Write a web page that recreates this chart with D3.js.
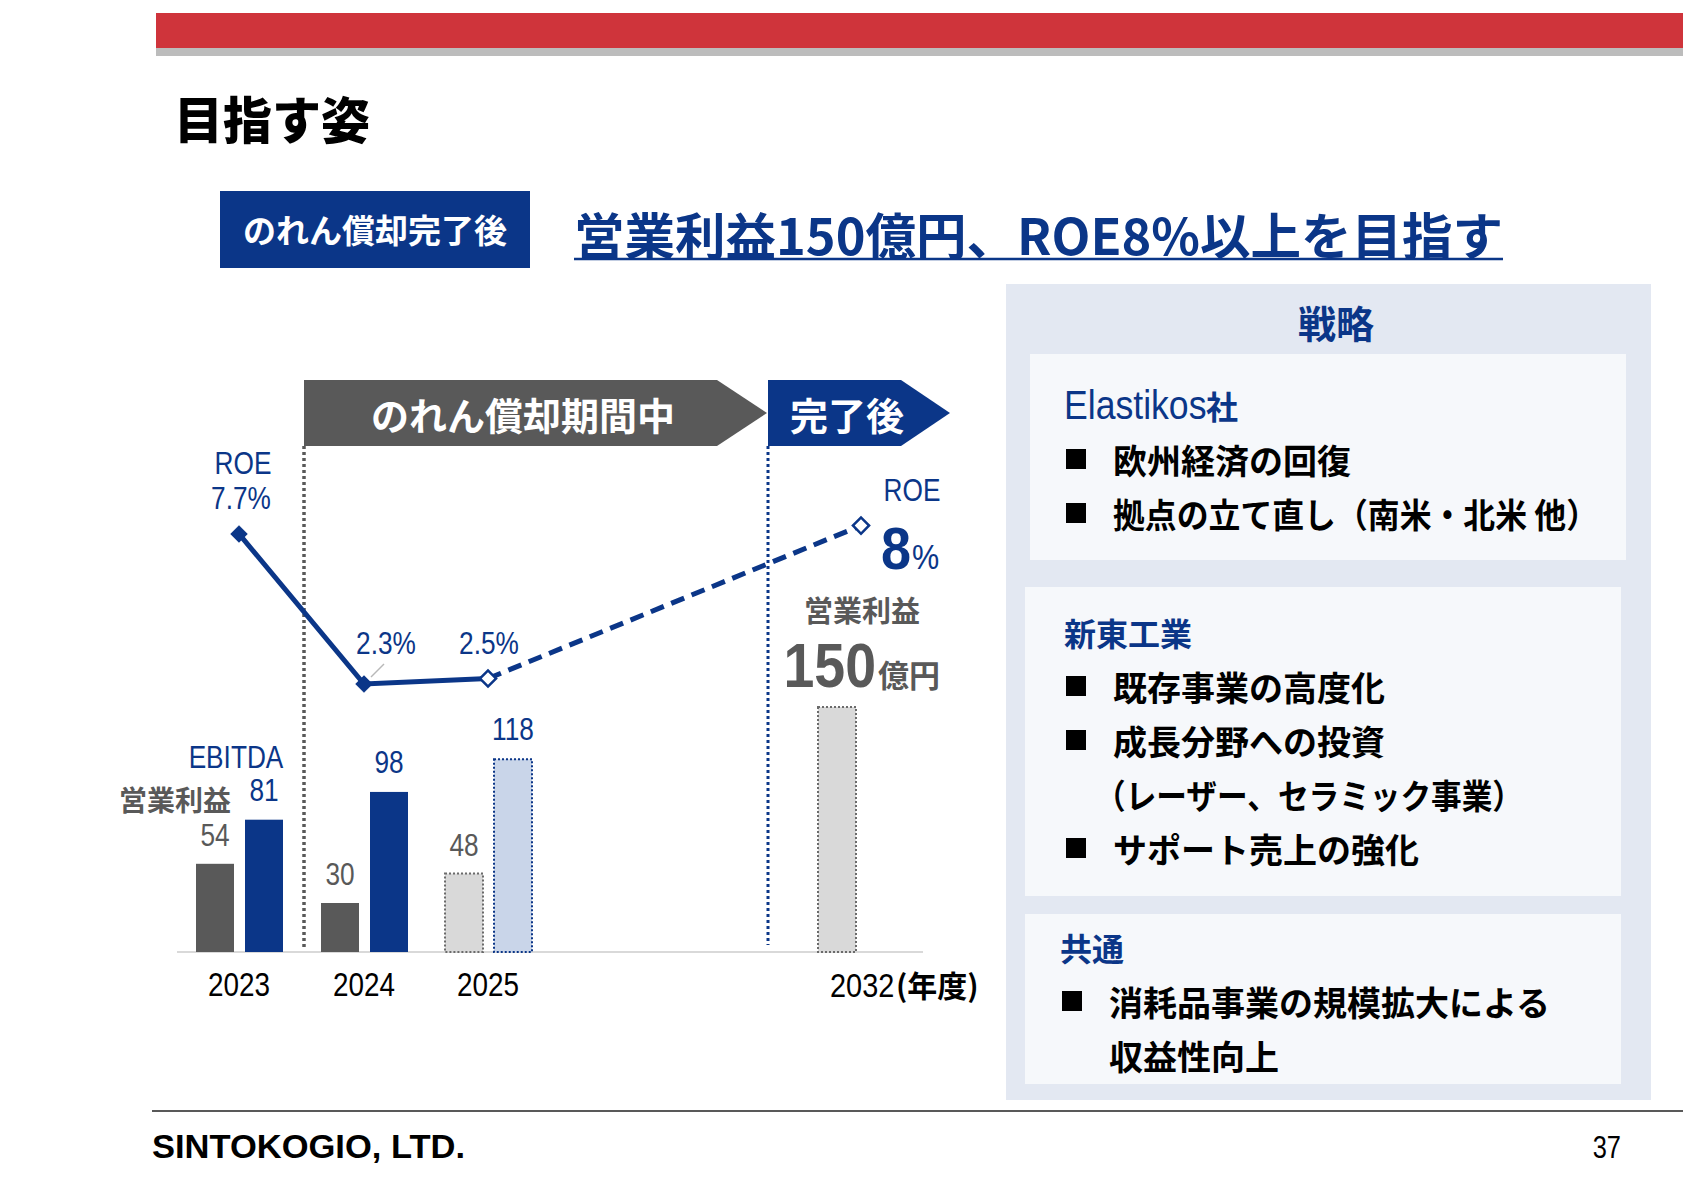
<!DOCTYPE html>
<html>
<head>
<meta charset="utf-8">
<script src="https://cdn.jsdelivr.net/npm/d3@7"></script>
<style>
  body { margin: 0; background: #fff; }
  text { font-family: "Noto Sans CJK JP", sans-serif; }
  .num { font-family: "Liberation Sans", Arial, sans-serif; }
</style>
</head>
<body>
<svg id="chart" width="1683" height="1190"></svg>
<script>
"use strict";
// fiscal years and values (億円 / %)
var years = ["2023", "2024", "2025", "2032"];
var opProfit = [54, 30, 48, 150];
var ebitda = [81, 98, 118, null];
var roe = [7.7, 2.3, 2.5, 8];
var isPlan = [false, false, true, true];

// strategy panel texts
var strategyHeads = ["Elastikos社", "新東工業", "共通"];
var strategyItems = [
  [["欧州経済の回復"], ["拠点の立て直し（南米・北米 他）"]],
  [["既存事業の高度化"], ["成長分野への投資", "（レーザー、セラミック事業）"], ["サポート売上の強化"]],
  [["消耗品事業の規模拡大による", "収益性向上"]]
];

var navy = "#0b3688",
  darkGray = "#595959";

var svg = d3.select("#chart");

//fake a narrow face: squeeze text horizontally around its anchor point
function squeeze(sel, k) {
  sel.each(function() {
    var t = d3.select(this);
    var x0 = +t.attr("x") || 0,
      y0 = +t.attr("y") || 0;
    t.attr("x", 0).attr("y", 0)
      .attr("transform", "translate(" + x0 + "," + y0 + ") scale(" + k + ",1)");
  });
  return sel;
}

// header stripes
svg.append("rect").attr("x", 156).attr("y", 13).attr("width", 1527).attr("height", 35).attr("fill", "#cf343b");
svg.append("rect").attr("x", 156).attr("y", 48).attr("width", 1527).attr("height", 8).attr("fill", "#bcbcbc");

svg.append("text").attr("x", 174).attr("y", 117).attr("dominant-baseline", "central")
  .attr("font-size", 50).attr("font-weight", 900).attr("fill", "#000")
  .attr("textLength", 196).attr("lengthAdjust", "spacingAndGlyphs").text("目指す姿");

// goal banner
svg.append("rect").attr("x", 220).attr("y", 191).attr("width", 310).attr("height", 77).attr("fill", navy);
svg.append("text").attr("x", 375).attr("y", 229).attr("text-anchor", "middle").attr("dominant-baseline", "central")
  .attr("font-size", 33).attr("font-weight", 700).attr("fill", "#fff").text("のれん償却完了後");

svg.append("text").attr("x", 574).attr("y", 233).attr("dominant-baseline", "central")
  .attr("font-size", 50).attr("font-weight", 700).attr("fill", navy)
  .attr("textLength", 929).attr("lengthAdjust", "spacingAndGlyphs")
  .text("営業利益150億円、ROE8%以上を目指す");
svg.append("line").attr("x1", 574).attr("x2", 1503).attr("y1", 259).attr("y2", 259)
  .attr("stroke", navy).attr("stroke-width", 2.5);

// ---- chart ----
var x = d3.scaleOrdinal().domain(years).range([239, 364, 488, 837]);
var xRoe = d3.scaleOrdinal().domain(years).range([239, 364, 488, 861]);
var y = d3.scaleLinear().domain([0, 150]).range([952, 707]);
var yRoe = d3.scaleLinear().domain([0, 8]).range([748, 525.6]);
var barW = 38;

// period arrows
svg.append("polygon").attr("points", "304,380 717,380 767,413 717,446 304,446").attr("fill", darkGray);
svg.append("polygon").attr("points", "768,380 901,380 950,413 901,446 768,446").attr("fill", navy);
svg.append("text").attr("x", 523).attr("y", 413).attr("text-anchor", "middle").attr("dominant-baseline", "central")
  .attr("font-size", 38).attr("font-weight", 700).attr("fill", "#fff").text("のれん償却期間中");
svg.append("text").attr("x", 847).attr("y", 413).attr("text-anchor", "middle").attr("dominant-baseline", "central")
  .attr("font-size", 38).attr("font-weight", 700).attr("fill", "#fff").text("完了後");

svg.append("line").attr("x1", 304).attr("x2", 304).attr("y1", 446).attr("y2", 950)
  .attr("stroke", darkGray).attr("stroke-width", 3.5).attr("stroke-dasharray", "3,3");
svg.append("line").attr("x1", 768).attr("x2", 768).attr("y1", 446).attr("y2", 945)
  .attr("stroke", navy).attr("stroke-width", 3).attr("stroke-dasharray", "3,3");

svg.append("line").attr("x1", 177).attr("x2", 923).attr("y1", 952).attr("y2", 952)
  .attr("stroke", "#d9d9d9").attr("stroke-width", 2);

var rows = years.map(function(yr, i) {
  return { year: yr, op: opProfit[i], eb: ebitda[i], roe: roe[i], plan: isPlan[i], single: ebitda[i] === null };
});

// operating profit bars
var opX = function(d) { return d.single ? x(d.year) - barW / 2 : x(d.year) - 43; };
svg.append("g").selectAll("rect").data(rows).enter().append("rect")
  .attr("x", opX)
  .attr("y", function(d) { return y(d.op); })
  .attr("width", barW)
  .attr("height", function(d) { return y(0) - y(d.op); })
  .attr("fill", function(d) { return d.plan ? "#d9d9d9" : darkGray; })
  .attr("stroke", function(d) { return d.plan ? "#6b6b6b" : "none"; })
  .attr("stroke-width", 2).attr("stroke-dasharray", "2,2");

// EBITDA bars
var ebRows = rows.filter(function(d) { return d.eb !== null; });
svg.append("g").selectAll("rect").data(ebRows).enter().append("rect")
  .attr("x", function(d) { return x(d.year) + 6; })
  .attr("y", function(d) { return y(d.eb); })
  .attr("width", barW)
  .attr("height", function(d) { return y(0) - y(d.eb); })
  .attr("fill", function(d) { return d.plan ? "#c9d5e9" : navy; })
  .attr("stroke", function(d) { return d.plan ? navy : "none"; })
  .attr("stroke-width", 2).attr("stroke-dasharray", "2,2");

// bar value labels
squeeze(svg.append("g").selectAll("text").data(rows.filter(function(d) { return !d.single; })).enter().append("text")
  .attr("class", "num")
  .attr("x", function(d) { return x(d.year) - 24; })
  .attr("y", function(d) { return y(d.op) - 29; })
  .attr("text-anchor", "middle").attr("dominant-baseline", "central")
  .attr("font-size", 32).attr("fill", darkGray)
  .text(function(d) { return d.op; }), 0.82);
squeeze(svg.append("g").selectAll("text").data(ebRows).enter().append("text")
  .attr("class", "num")
  .attr("x", function(d) { return x(d.year) + 25; })
  .attr("y", function(d) { return y(d.eb) - 30; })
  .attr("text-anchor", "middle").attr("dominant-baseline", "central")
  .attr("font-size", 32).attr("fill", navy)
  .text(function(d) { return d.eb; }), 0.82);

squeeze(svg.append("text").attr("class", "num").attr("x", 236).attr("y", 757)
  .attr("text-anchor", "middle").attr("dominant-baseline", "central")
  .attr("font-size", 32).attr("fill", navy).text("EBITDA"), 0.82);
svg.append("text").attr("x", 175).attr("y", 799)
  .attr("text-anchor", "middle").attr("dominant-baseline", "central")
  .attr("font-size", 28).attr("font-weight", 700).attr("fill", darkGray).text("営業利益");

// year labels
squeeze(svg.append("g").selectAll("text").data(rows.filter(function(d) { return !d.single; })).enter().append("text")
  .attr("class", "num")
  .attr("x", function(d) { return x(d.year); })
  .attr("y", 985)
  .attr("text-anchor", "middle").attr("dominant-baseline", "central")
  .attr("font-size", 34).attr("fill", "#000")
  .text(function(d) { return d.year; }), 0.82);
squeeze(svg.append("text").attr("class", "num").attr("x", 830).attr("y", 985).attr("dominant-baseline", "central")
  .attr("font-size", 34).attr("fill", "#000").text(years[3]), 0.85);
svg.append("text").attr("x", 896).attr("y", 984).attr("dominant-baseline", "central")
  .attr("font-size", 30).attr("font-weight", 700).attr("fill", "#000").text("(年度)");

// 2032 target labels
svg.append("text").attr("x", 862).attr("y", 609).attr("text-anchor", "middle").attr("dominant-baseline", "central")
  .attr("font-size", 29).attr("font-weight", 700).attr("fill", darkGray).text("営業利益");
squeeze(svg.append("text").attr("class", "num").attr("x", 876).attr("y", 687).attr("text-anchor", "end")
  .attr("font-size", 63).attr("font-weight", 700).attr("fill", darkGray).text(opProfit[3]), 0.88);
svg.append("text").attr("x", 878).attr("y", 687)
  .attr("font-size", 31).attr("font-weight", 700).attr("fill", darkGray).text("億円");

// ROE line
var line = d3.line()
  .x(function(d) { return xRoe(d.year); })
  .y(function(d) { return yRoe(d.roe); });
svg.append("path").datum(rows.slice(0, 3)).attr("d", line)
  .attr("fill", "none").attr("stroke", navy).attr("stroke-width", 5);
svg.append("path").datum(rows.slice(2)).attr("d", line)
  .attr("fill", "none").attr("stroke", navy).attr("stroke-width", 5).attr("stroke-dasharray", "14,8");

// leader for 2.3%
svg.append("line").attr("x1", 384).attr("y1", 664).attr("x2", 371).attr("y2", 677)
  .attr("stroke", "#b8b8b8").attr("stroke-width", 1.5);

var diamond = d3.symbol().type(d3.symbolSquare).size(130);
svg.append("g").selectAll("path").data(rows).enter().append("path")
  .attr("d", diamond)
  .attr("transform", function(d) { return "translate(" + xRoe(d.year) + "," + yRoe(d.roe) + ") rotate(45)"; })
  .attr("fill", function(d) { return d.plan ? "#fff" : navy; })
  .attr("stroke", navy).attr("stroke-width", function(d) { return d.plan ? 2.5 : 1; });

// ROE labels
squeeze(svg.append("text").attr("class", "num").attr("x", 243).attr("y", 463)
  .attr("text-anchor", "middle").attr("dominant-baseline", "central")
  .attr("font-size", 32).attr("fill", navy).text("ROE"), 0.82);
squeeze(svg.append("text").attr("class", "num").attr("x", 241).attr("y", 498)
  .attr("text-anchor", "middle").attr("dominant-baseline", "central")
  .attr("font-size", 32).attr("fill", navy).text(roe[0] + "%"), 0.82);
squeeze(svg.append("g").selectAll("text").data(rows.slice(1, 3)).enter().append("text")
  .attr("class", "num")
  .attr("x", function(d) { return xRoe(d.year) + (d.plan ? 1 : 22); })
  .attr("y", 643)
  .attr("text-anchor", "middle").attr("dominant-baseline", "central")
  .attr("font-size", 32).attr("fill", navy)
  .text(function(d) { return d.roe + "%"; }), 0.82);
squeeze(svg.append("text").attr("class", "num").attr("x", 912).attr("y", 490)
  .attr("text-anchor", "middle").attr("dominant-baseline", "central")
  .attr("font-size", 32).attr("fill", navy).text("ROE"), 0.82);
squeeze(svg.append("text").attr("class", "num").attr("x", 911).attr("y", 569).attr("text-anchor", "end")
  .attr("font-size", 60).attr("font-weight", 700).attr("fill", navy).text(roe[3]), 0.9);
squeeze(svg.append("text").attr("class", "num").attr("x", 912).attr("y", 569)
  .attr("font-size", 36).attr("fill", navy).text("%"), 0.85);

// ---- strategy panel ----
svg.append("rect").attr("x", 1006).attr("y", 284).attr("width", 645).attr("height", 816).attr("fill", "#e3e8f2");
svg.append("text").attr("x", 1336).attr("y", 321).attr("text-anchor", "middle").attr("dominant-baseline", "central")
  .attr("font-size", 38).attr("font-weight", 700).attr("fill", navy).text("戦略");

var boxes = [
  { x: 1030, y: 354, w: 596, h: 206, head: 405, tx: 1064 },
  { x: 1025, y: 587, w: 596, h: 309, head: 632, tx: 1064 },
  { x: 1025, y: 914, w: 596, h: 170, head: 947, tx: 1060 }
];
var lineStep = 54;
// lines with full-width brackets are set tighter in the original
var fitWidth = { "拠点の立て直し（南米・北米 他）": 485, "（レーザー、セラミック事業）": 428 };

boxes.forEach(function(b, gi) {
  svg.append("rect").attr("x", b.x).attr("y", b.y).attr("width", b.w).attr("height", b.h).attr("fill", "#f6f8fb");
  if (gi === 0) {
    var word = strategyHeads[gi].slice(0, -1);
    squeeze(svg.append("text").attr("class", "num").attr("x", b.tx).attr("y", b.head).attr("dominant-baseline", "central")
      .attr("font-size", 40).attr("fill", navy).text(word), 0.89);
    svg.append("text").attr("x", b.tx + 142).attr("y", b.head).attr("dominant-baseline", "central")
      .attr("font-size", 32).attr("font-weight", 700).attr("fill", navy).text(strategyHeads[gi].slice(-1));
  } else {
    svg.append("text").attr("x", b.tx).attr("y", b.head).attr("dominant-baseline", "central")
      .attr("font-size", 32).attr("font-weight", 700).attr("fill", navy).text(strategyHeads[gi]);
  }
  var row = 1;
  strategyItems[gi].forEach(function(item) {
    item.forEach(function(txt, li) {
      var cy = b.head + row * lineStep;
      if (li === 0) {
        svg.append("rect").attr("x", b.tx + 2).attr("y", cy - 10).attr("width", 20).attr("height", 20).attr("fill", "#000");
      }
      var startX = txt.charAt(0) === "（" ? b.tx + 31 : b.tx + 49;
      var t = svg.append("text").attr("x", startX).attr("y", cy).attr("dominant-baseline", "central")
        .attr("font-size", 34).attr("font-weight", 700).attr("fill", "#000").text(txt);
      if (fitWidth[txt]) t.attr("textLength", fitWidth[txt]).attr("lengthAdjust", "spacingAndGlyphs");
      row++;
    });
  });
});

// footer
svg.append("line").attr("x1", 152).attr("x2", 1683).attr("y1", 1111).attr("y2", 1111)
  .attr("stroke", darkGray).attr("stroke-width", 2);
svg.append("text").attr("class", "num").attr("x", 152).attr("y", 1146).attr("dominant-baseline", "central")
  .attr("font-size", 34).attr("font-weight", 700).attr("fill", "#000")
  .attr("textLength", 313).attr("lengthAdjust", "spacingAndGlyphs").text("SINTOKOGIO, LTD.");
squeeze(svg.append("text").attr("class", "num").attr("x", 1621).attr("y", 1147).attr("text-anchor", "end")
  .attr("dominant-baseline", "central").attr("font-size", 31).attr("fill", "#000").text("37"), 0.82);
</script>
</body>
</html>
